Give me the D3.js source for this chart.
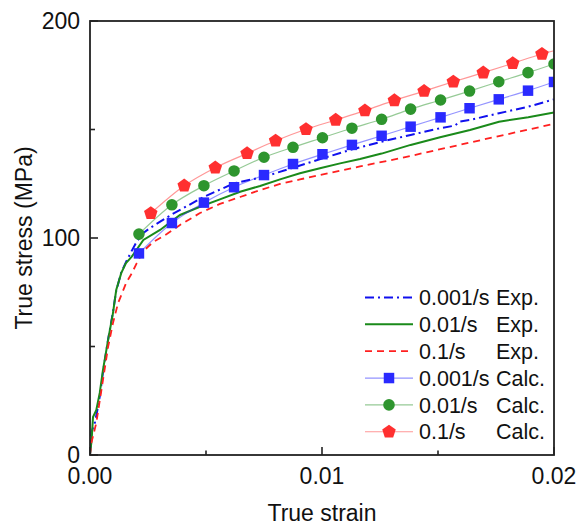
<!DOCTYPE html>
<html><head><meta charset="utf-8">
<script src="https://cdn.jsdelivr.net/npm/d3@7"></script>
<style>body{margin:0;background:#fff}svg{display:block}text{font-family:"Liberation Sans",Arial,sans-serif;fill:#111}</style>
</head><body>
<svg id="c" width="581" height="532"></svg>
<script>
// ---- data ----
const xTicks = [0, 0.01, 0.02];
const xTickLabels = ["0.00", "0.01", "0.02"];
const xMinor = [0.005, 0.015];
const yTicks = [0, 100, 200];
const yMinor = [50, 150];

// Experimental curves [strain, stress]
const exp001 = [[0,0],[0.000065,10.6],[0.000216,15.2],[0.000302,19.8],[0.000431,27.6],[0.00056,38.2],[0.000776,53.0],[0.000991,65.9],[0.00112,75.1],[0.00134,83.9],[0.00155,88.9],[0.00177,93.5],[0.00201,98.3],[0.0023,102.3],[0.00259,104.6],[0.00353,110.9],[0.00491,119.0],[0.00621,125.2],[0.0075,128.2],[0.00875,132.4],[0.01003,136.7],[0.01131,140.9],[0.01257,144.4],[0.01382,147.5],[0.01509,150.6],[0.01573,151.8],[0.01595,153.7],[0.01638,154.4],[0.01763,157.5],[0.01889,160.5],[0.02,163.9]];
const exp01 = [[0,0],[0.00007,7],[0.00013,17.5],[0.00027,20.7],[0.00042,28.6],[0.00056,39.2],[0.00078,53.0],[0.00099,65.4],[0.00113,76.0],[0.00135,83.9],[0.00155,88.5],[0.0018,91.4],[0.0023,99.1],[0.00302,103.7],[0.00388,110.6],[0.00474,114.4],[0.0056,117.8],[0.00647,121.3],[0.00733,124.0],[0.00819,127.0],[0.00905,129.8],[0.00991,132.1],[0.01078,134.4],[0.01164,136.4],[0.01257,138.9],[0.01382,142.9],[0.01509,146.4],[0.01638,149.8],[0.01763,153.6],[0.01889,155.6],[0.02,157.9]];
const exp1 = [[0,0],[0.000056,5.5],[0.00027,14.7],[0.00056,34.6],[0.00078,49.8],[0.00099,60.8],[0.00121,70.0],[0.00156,79.3],[0.0018,83.7],[0.00201,88.3],[0.0023,94.0],[0.00273,98.2],[0.00331,101.8],[0.00388,106.0],[0.00474,111.5],[0.0056,115.7],[0.00647,118.9],[0.00733,122.1],[0.00819,124.9],[0.00905,127.0],[0.00991,129.0],[0.01078,131.0],[0.01164,133.0],[0.01336,136.7],[0.01638,144.0],[0.02,152.6]];

// Calculated points
const calc001 = [[0.00211,92.9],[0.00353,106.9],[0.00491,116.3],[0.00621,123.4],[0.0075,129.0],[0.00875,134.1],[0.01002,138.6],[0.01129,142.9],[0.01257,147.1],[0.01382,151.3],[0.01511,155.6],[0.01636,159.8],[0.01762,163.9],[0.01888,167.9],[0.02,171.9]];
const calc01 = [[0.00211,101.8],[0.00353,115.3],[0.00491,124.1],[0.00621,130.9],[0.0075,137.2],[0.00875,141.8],[0.01002,146.2],[0.01129,150.6],[0.01257,154.7],[0.01382,159.4],[0.01511,163.6],[0.01636,167.7],[0.01762,172.0],[0.01888,176.2],[0.02,180.2]];
const calc1 = [[0.00262,111.4],[0.00406,124.1],[0.0054,132.4],[0.00677,139.0],[0.008,144.8],[0.00931,150.1],[0.01059,154.4],[0.01185,158.7],[0.01312,163.4],[0.0144,167.7],[0.01566,172.0],[0.01695,176.2],[0.01822,180.5],[0.01948,184.8]];
const calc1End = [0.02, 186.3];

const legendRates = ["0.001/s", "0.01/s", "0.1/s", "0.001/s", "0.01/s", "0.1/s"];
const legendTypes = ["Exp.", "Exp.", "Exp.", "Calc.", "Calc.", "Calc."];

// ---- layout ----
const L = 90, R = 554, T = 21, B = 455;
const svg = d3.select("#c");
const x = d3.scaleLinear().domain([0, 0.02]).range([L, R]);
const y = d3.scaleLinear().domain([0, 200]).range([B, T]);

const pentagon = {draw(ctx, size){
  const r = Math.sqrt(size / 2.378);
  for (let i = 0; i < 5; i++) {
    const a = -Math.PI/2 + i * 2*Math.PI/5;
    const px = r*Math.cos(a), py = r*Math.sin(a);
    if (i === 0) ctx.moveTo(px, py); else ctx.lineTo(px, py);
  }
  ctx.closePath();
}};

const cBlue = "#1010ee", cGreen = "#1a8a1a", cRed = "#ff2020";
const mBlue = "#2a2aff", mGreen = "#2e952e", mRed = "#ff3030";

svg.append("defs").append("clipPath").attr("id","clip")
  .append("rect").attr("x", L).attr("y", T).attr("width", R-L).attr("height", B-T);

const line = d3.line().x(d => x(d[0])).y(d => y(d[1]));
const g = svg.append("g").attr("clip-path", "url(#clip)");

// exp lines
g.append("path").datum(exp001).attr("d", line).attr("fill","none").attr("stroke", cBlue).attr("stroke-width", 2).attr("stroke-dasharray","9,4,2,4");
g.append("path").datum(exp01).attr("d", line).attr("fill","none").attr("stroke", cGreen).attr("stroke-width", 2);
g.append("path").datum(exp1).attr("d", line).attr("fill","none").attr("stroke", cRed).attr("stroke-width", 1.8).attr("stroke-dasharray","7,5");

// calc lines
const sline = d3.line().x(d => x(d[0])).y(d => y(d[1])).curve(d3.curveMonotoneX);
g.append("path").datum(calc001).attr("d", sline).attr("fill","none").attr("stroke", mBlue).attr("stroke-opacity",0.5).attr("stroke-width", 1.2);
g.append("path").datum(calc01).attr("d", sline).attr("fill","none").attr("stroke", mGreen).attr("stroke-opacity",0.5).attr("stroke-width", 1.2);
g.append("path").datum(calc1.concat([calc1End])).attr("d", sline).attr("fill","none").attr("stroke", mRed).attr("stroke-opacity",0.5).attr("stroke-width", 1.2);

const symSq = d3.symbol().type(d3.symbolSquare).size(110);
const symCi = d3.symbol().type(d3.symbolCircle).size(105);
const symPe = d3.symbol().type(pentagon).size(120);
g.selectAll(".sb").data(calc001).join("path").attr("d", symSq).attr("transform", d => `translate(${x(d[0])},${y(d[1])})`).attr("fill", mBlue);
g.selectAll(".sg").data(calc01).join("path").attr("d", symCi).attr("transform", d => `translate(${x(d[0])},${y(d[1])})`).attr("fill", mGreen);
g.selectAll(".sr").data(calc1).join("path").attr("d", symPe).attr("transform", d => `translate(${x(d[0])},${y(d[1])})`).attr("fill", mRed);

// frame
svg.append("rect").attr("x", L).attr("y", T).attr("width", R-L).attr("height", B-T).attr("fill","none").attr("stroke","#222").attr("stroke-width",1.8);

// ticks
const ax = svg.append("g");
ax.selectAll(".xt").data(xTicks).join("line").attr("x1", d=>x(d)).attr("x2", d=>x(d)).attr("y1", B).attr("y2", B-8).attr("stroke","#222").attr("stroke-width",1.6);
ax.selectAll(".xm").data(xMinor).join("line").attr("x1", d=>x(d)).attr("x2", d=>x(d)).attr("y1", B).attr("y2", B-4.5).attr("stroke","#222").attr("stroke-width",1.6);
ax.selectAll(".yt").data(yTicks).join("line").attr("y1", d=>y(d)).attr("y2", d=>y(d)).attr("x1", L).attr("x2", L+8).attr("stroke","#222").attr("stroke-width",1.6);
ax.selectAll(".ym").data(yMinor).join("line").attr("y1", d=>y(d)).attr("y2", d=>y(d)).attr("x1", L).attr("x2", L+5).attr("stroke","#222").attr("stroke-width",1.6);

ax.selectAll(".xl").data(xTicks).join("text").attr("x", d=>x(d)).attr("y", 483.5).attr("text-anchor","middle").attr("font-size", 23).text((d,i)=>xTickLabels[i]);
ax.selectAll(".yl").data(yTicks).join("text").attr("x", 80).attr("y", d=>y(d)).attr("dy","0.34em").attr("text-anchor","end").attr("font-size", 23).text(d=>d);

svg.append("text").attr("x", (L+R)/2).attr("y", 521).attr("text-anchor","middle").attr("font-size", 23).text("True strain");
svg.append("text").attr("transform", `translate(32,${(T+B)/2}) rotate(-90)`).attr("text-anchor","middle").attr("font-size", 23).text("True stress (MPa)");

// legend
const leg = svg.append("g");
const ly0 = 297.5, ldy = 26.85, lx1 = 365, lx2 = 413;
const legStyles = [
  {c:cBlue, dash:"9,4,2,4", w:2}, {c:cGreen, dash:null, w:2}, {c:cRed, dash:"7,5", w:1.8},
  {c:mBlue, sym:symSq, op:0.5, w:1.2}, {c:mGreen, sym:symCi, op:0.5, w:1.2}, {c:mRed, sym:symPe, op:0.5, w:1.2}
];
legStyles.forEach((s,i) => {
  const yy = ly0 + i*ldy;
  leg.append("line").attr("x1", lx1).attr("x2", lx2).attr("y1", yy).attr("y2", yy)
    .attr("stroke", s.c).attr("stroke-width", s.w).attr("stroke-dasharray", s.dash).attr("stroke-opacity", s.op || 1);
  if (s.sym) leg.append("path").attr("d", s.sym).attr("transform", `translate(${(lx1+lx2)/2},${yy})`).attr("fill", s.c);
  leg.append("text").attr("x", 419).attr("y", yy).attr("dy","0.36em").attr("font-size", 21.5).text(legendRates[i]);
  leg.append("text").attr("x", 496).attr("y", yy).attr("dy","0.36em").attr("font-size", 21.5).text(legendTypes[i]);
});
</script>
</body></html>
